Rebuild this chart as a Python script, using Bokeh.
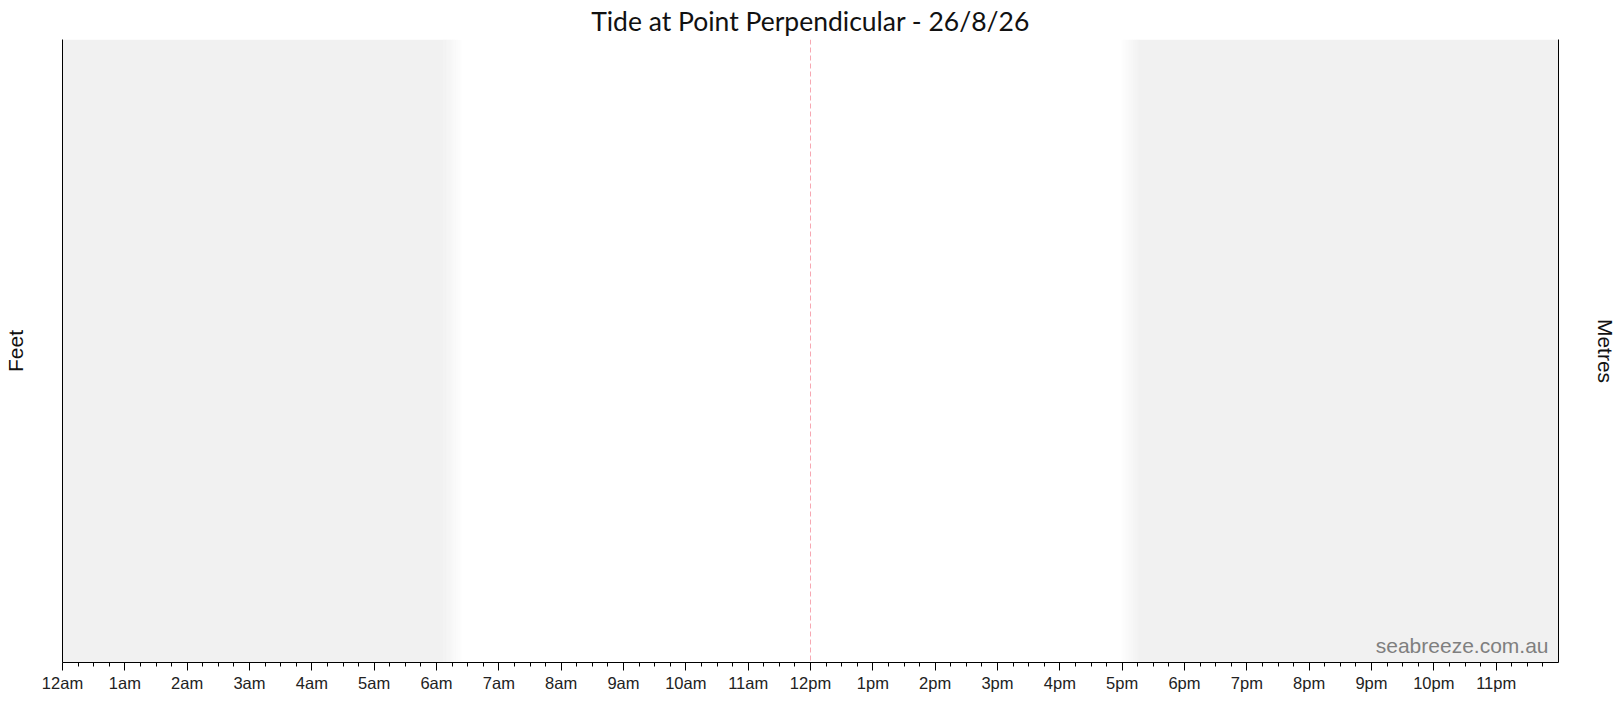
import math
from bokeh.plotting import figure
from bokeh.models import Range1d, LinearAxis, FixedTicker, Span, Label, ColumnDataSource, Title
from bokeh.embed import file_html
from bokeh.resources import INLINE

# ---------------- data ----------------
title_text = "Tide at Point Perpendicular - 26/8/26"
left_axis_label = "Feet"
right_axis_label = "Metres"
watermark = "seabreeze.com.au"
hour_ticks = list(range(24))
hour_labels = ["12am", "1am", "2am", "3am", "4am", "5am", "6am", "7am", "8am", "9am", "10am", "11am",
               "12pm", "1pm", "2pm", "3pm", "4pm", "5pm", "6pm", "7pm", "8pm", "9pm", "10pm", "11pm"]
sunrise = 6.27   # hours
sunset = 17.12   # hours
noon = 12.0
day_start, day_end = 0.0, 24.0

# ---------------- layout / style ----------------
W, H = 1619, 700
FL, FR, FT, FB = 61, 1559, 39, 662
fw, fh = FR - FL, FB - FT
pxh = fw / (day_end - day_start)   # px per hour
NIGHT = (241, 241, 241)
DAY = (255, 255, 255)
FADE = 0.32  # hours

p = figure(width=W, height=H, x_range=Range1d(day_start, day_end), y_range=Range1d(0, 1),
           output_backend="svg", toolbar_location=None,
           x_axis_location=None, y_axis_location=None,
           min_border_left=FL, min_border_right=W - FR, min_border_top=FT, min_border_bottom=H - FB)
p.title = Title(text=title_text, align="center", text_font="Lato", text_font_size="26.5px",
                text_color="#111111", text_font_style="normal", standoff=5, offset=0)
p.xgrid.visible = False
p.ygrid.visible = False
p.outline_line_color = None
p.background_fill_color = "white"
p.border_fill_color = "white"


def hexc(c):
    return "#%02x%02x%02x" % tuple(int(round(v)) for v in c)


def ramp(x0, x1, c0, c1, n=24):
    L, R, C = [], [], []
    for i in range(n):
        t = (i + 0.5) / n
        c = tuple(c0[k] + (c1[k] - c0[k]) * t for k in range(3))
        L.append(x0 + (x1 - x0) * i / n)
        R.append(x0 + (x1 - x0) * (i + 1) / n + 0.006)
        C.append(hexc(c))
    return L, R, C


lefts, rights, cols = [day_start, sunset + FADE / 2], [sunrise - FADE / 2 + 0.006, day_end], [hexc(NIGHT), hexc(NIGHT)]
for (a, b, c0, c1) in [(sunrise - FADE / 2, sunrise + FADE / 2, NIGHT, DAY),
                       (sunset - FADE / 2, sunset + FADE / 2, DAY, NIGHT)]:
    L, R, C = ramp(a, b, c0, c1)
    lefts += L
    rights += R
    cols += C
src = ColumnDataSource(dict(left=lefts, right=rights, bottom=[0] * len(lefts), top=[1] * len(lefts), color=cols))
p.quad(left="left", right="right", bottom="bottom", top="top", fill_color="color", line_color=None, source=src)

p.add_layout(Span(location=noon, dimension="height", line_color="#f7a8b2", line_width=1, line_dash="5 3"))

minor = [h + q / 4 for h in hour_ticks for q in (1, 2, 3)]
xaxis = LinearAxis(ticker=FixedTicker(ticks=hour_ticks, minor_ticks=minor),
                   major_label_overrides={h: lab for h, lab in zip(hour_ticks, hour_labels)},
                   axis_line_color="black", major_tick_line_color="black", minor_tick_line_color="black",
                   major_tick_in=0, major_tick_out=8, minor_tick_in=0, minor_tick_out=4,
                   major_label_standoff=3, major_label_text_font="Liberation Sans",
                   major_label_text_font_size="16.5px", major_label_text_color="#222222")
p.add_layout(xaxis, "below")

for side, lab, stand in (("left", left_axis_label, 36), ("right", right_axis_label, 35)):
    ax = LinearAxis(ticker=FixedTicker(ticks=[]), major_label_text_font_size="0px",
                    major_tick_in=0, major_tick_out=0, minor_tick_in=0, minor_tick_out=0,
                    axis_line_color="black", axis_label=lab, axis_label_standoff=stand,
                    axis_label_text_font="Liberation Sans", axis_label_text_font_size="21px",
                    axis_label_text_font_style="normal", axis_label_text_color="#111111")
    p.add_layout(ax, side)

p.add_layout(Label(x=day_end - 10 / pxh, y=17 / fh, text=watermark, text_align="right",
                   text_baseline="alphabetic", text_font="Liberation Sans", text_font_size="21px",
                   text_color="#7f7f7f"))

open("out.html", "w").write(file_html(p, INLINE))
